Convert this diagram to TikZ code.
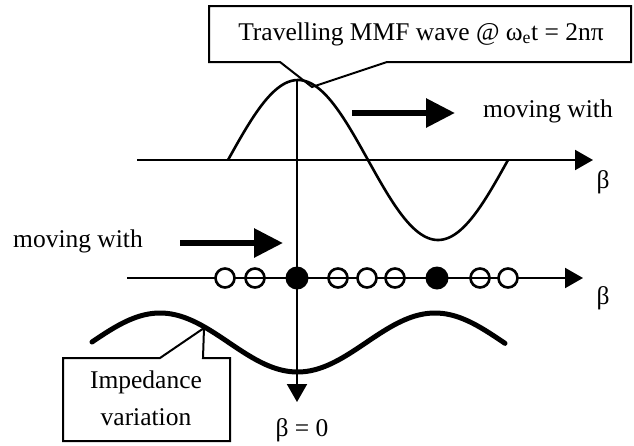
\documentclass[tikz,border=0pt]{standalone}
\usepackage{fontspec}
\setmainfont{Liberation Serif}
\usetikzlibrary{arrows.meta}
\begin{document}
\begin{tikzpicture}[x=1pt,y=-1pt,
  axis/.style={line width=2pt,-{Triangle[length=18pt,width=20pt]}},
  bigarrow/.style={line width=6pt,-{Triangle[length=29pt,width=28pt]}},
  lbl/.style={font=\fontsize{25.5}{28}\selectfont, inner sep=0pt},
  callout/.style={line width=2pt, fill=white, line join=miter},
  wave/.style={line width=2.6pt},
  imp/.style={line width=5pt, line cap=round},
  opendot/.style={circle, draw, line width=2.6pt, fill=white, minimum size=19pt, inner sep=0pt},
  minusdot/.style={opendot, path picture={\draw[line width=2.2pt] (path picture bounding box.west) -- (path picture bounding box.east);}},
  fulldot/.style={circle, fill=black, minimum size=23pt, inner sep=0pt}]
\useasboundingbox (0,0) rectangle (634,445);

% callouts
\draw[callout] (209,6) -- (631,6) -- (631,62) -- (387,62) -- (312,87) -- (280,62) -- (209,62) -- cycle;
\node[lbl] (title) at (421,34) {Travelling MMF wave @ ω\textsubscript{e}t = 2nπ};

\draw[callout] (63,358) -- (160,358) -- (204,328) -- (203,358) -- (230,358) -- (230,441) -- (63,441) -- cycle;
\node[lbl] (imp1) at (146,382) {Impedance};
\node[lbl] (imp2) at (146,417) {variation};

% axes
\coordinate (a1s) at (137,160);
\coordinate (a1e) at (593,160);
\coordinate (a2s) at (127,278);
\coordinate (a2e) at (583,278);
\coordinate (vs) at (297,80);
\coordinate (ve) at (297,402);
\draw[axis] (a1s) -- (a1e);
\draw[axis] (a2s) -- (a2e);
\draw[axis] (vs) -- (ve);

% MMF wave
\draw[wave] plot[domain=228:508, samples=120] (\x, {160-80*sin((\x-228)/280*360)});

% impedance variation
\draw[imp] plot[domain=92:505, samples=120] (\x, {342.5-29.5*cos((\x-160)/275*360)});

% moving arrows
\coordinate (m1s) at (352,113);
\coordinate (m1e) at (455,113);
\draw[bigarrow] (m1s) -- (m1e);
\node[lbl] (mw1) at (548,111) {moving with};
\coordinate (m2s) at (180,243);
\coordinate (m2e) at (283,243);
\draw[bigarrow] (m2s) -- (m2e);
\node[lbl] (mw2) at (78,241) {moving with};

% conductors
\node[opendot]  (c1) at (225,278) {};
\node[minusdot] (c2) at (255,278) {};
\node[fulldot]  (c3) at (297,278) {};
\node[minusdot] (c4) at (338,278) {};
\node[opendot]  (c5) at (367,278) {};
\node[minusdot] (c6) at (395,278) {};
\node[fulldot]  (c7) at (437,278) {};
\node[minusdot] (c8) at (480,278) {};
\node[opendot]  (c9) at (508,278) {};

% labels
\node[lbl] (b1) at (603,182) {β};
\node[lbl] (b2) at (603,298) {β};
\node[lbl] (b0) at (302,430) {β = 0};
\end{tikzpicture}
\end{document}
